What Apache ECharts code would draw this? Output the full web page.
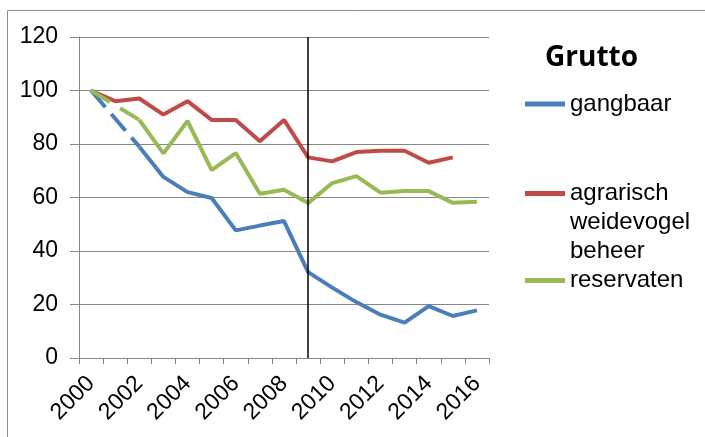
<!DOCTYPE html>
<html>
<head>
<meta charset="utf-8">
<script src="https://cdn.jsdelivr.net/npm/echarts@6/dist/echarts.min.js"></script>
<style>
  html, body { margin: 0; padding: 0; background: #fff; }
  #chart { width: 705px; height: 437px; }
</style>
</head>
<body>
<div id="chart"></div>
<script>
// Years on the category axis
const years = ['2000','2001','2002','2003','2004','2005','2006','2007','2008',
               '2009','2010','2011','2012','2013','2014','2015','2016'];

// Index values (2000 = 100); '-' marks a missing year
const gangbaarEarly = [100, '-', 79];
const gangbaar = ['-', '-', 79, 67.7, 62, 59.8, 47.7, 49.5, 51.2, 32.1, 26.3, 20.9, 16.2, 13.2, 19.4, 15.7, 17.8];
const agrarisch = [100, 96, 97, 91, 96, 89, 89, 81, 89, 75, 73.5, 77, 77.5, 77.5, 73, 75, '-'];
const reservatenEarly = [100, '-', 89];
const reservaten = ['-', '-', 89, 76.5, 88.6, 70.2, 76.6, 61.4, 62.9, 57.9, 65.4, 68, 61.8, 62.4, 62.4, 58, 58.4];

// Year marked with a vertical reference line
const markYear = '2009';

const names = {
  blue: 'gangbaar',
  red: 'agrarisch\nweidevogel\nbeheer',
  green: 'reservaten'
};
const colors = { blue: '#4a7ebb', red: '#be4b48', green: '#98b954' };

const font = 'Liberation Sans, Arial, sans-serif';
const gridGray = '#868686';

const chart = echarts.init(document.getElementById('chart'), null, { renderer: 'canvas' });

function legendFor(name, top, formatter) {
  const cfg = {
    data: [name],
    left: 525,
    top: top,
    padding: 0,
    orient: 'vertical',
    icon: 'rect',
    itemWidth: 40,
    itemHeight: 5,
    selectedMode: false,
    textStyle: { fontFamily: font, fontSize: 24, color: '#000', lineHeight: 29 }
  };
  if (formatter) cfg.formatter = formatter;
  return cfg;
}

chart.setOption({
  animation: false,
  backgroundColor: '#fff',
  graphic: [{
    type: 'rect',
    shape: { x: 7.5, y: 10.5, width: 800, height: 500 },
    style: { fill: 'none', stroke: '#8c8c8c', lineWidth: 1 },
    silent: true
  }],
  title: {
    text: 'Grutto',
    left: 545,
    top: 44,
    padding: 0,
    textStyle: { fontFamily: 'Open Sans, sans-serif', fontWeight: 'bold', fontSize: 28, color: '#000' }
  },
  legend: [
    legendFor(names.blue, 89.5),
    // two leading blank lines keep the swatch beside the first line of the label
    legendFor(names.red, 121, n => '\n\n' + n),
    legendFor(names.green, 266)
  ],
  grid: { left: 79, right: 216, top: 37, bottom: 79 },
  xAxis: {
    type: 'category',
    data: years,
    boundaryGap: true,
    axisLine: { lineStyle: { color: gridGray, width: 1 } },
    axisTick: { show: true, interval: 0, length: 6, lineStyle: { color: gridGray } },
    axisLabel: {
      interval: 1, rotate: 45, margin: 22,
      fontFamily: font, fontSize: 23, color: '#000'
    },
    splitLine: { show: false }
  },
  yAxis: {
    type: 'value',
    min: 0, max: 120, interval: 20,
    axisLine: { show: true, lineStyle: { color: gridGray, width: 1 } },
    axisTick: { show: true, length: 9, lineStyle: { color: gridGray } },
    axisLabel: { margin: 21, fontFamily: font, fontSize: 23, color: '#000' },
    splitLine: { show: true, lineStyle: { color: gridGray, width: 1 } }
  },
  series: [
    {
      name: names.blue, type: 'line', data: gangbaar,
      symbol: 'none', color: colors.blue,
      lineStyle: { width: 4, color: colors.blue }
    },
    {
      name: names.blue, type: 'line', data: gangbaarEarly, connectNulls: true,
      symbol: 'none', color: colors.blue,
      lineStyle: { width: 4, color: colors.blue, type: [22, 9] }
    },
    {
      name: names.red, type: 'line', data: agrarisch,
      symbol: 'none', color: colors.red,
      lineStyle: { width: 4, color: colors.red }
    },
    {
      name: names.green, type: 'line', data: reservaten,
      symbol: 'none', color: colors.green,
      lineStyle: { width: 4, color: colors.green }
    },
    {
      name: names.green, type: 'line', data: reservatenEarly, connectNulls: true,
      symbol: 'none', color: colors.green,
      lineStyle: { width: 4, color: colors.green, type: [22, 12] },
      markLine: {
        silent: true, symbol: 'none', z: 10,
        label: { show: false },
        lineStyle: { color: '#000', width: 1.5, type: 'solid' },
        data: [{ xAxis: markYear }]
      }
    }
  ]
});
</script>
</body>
</html>
